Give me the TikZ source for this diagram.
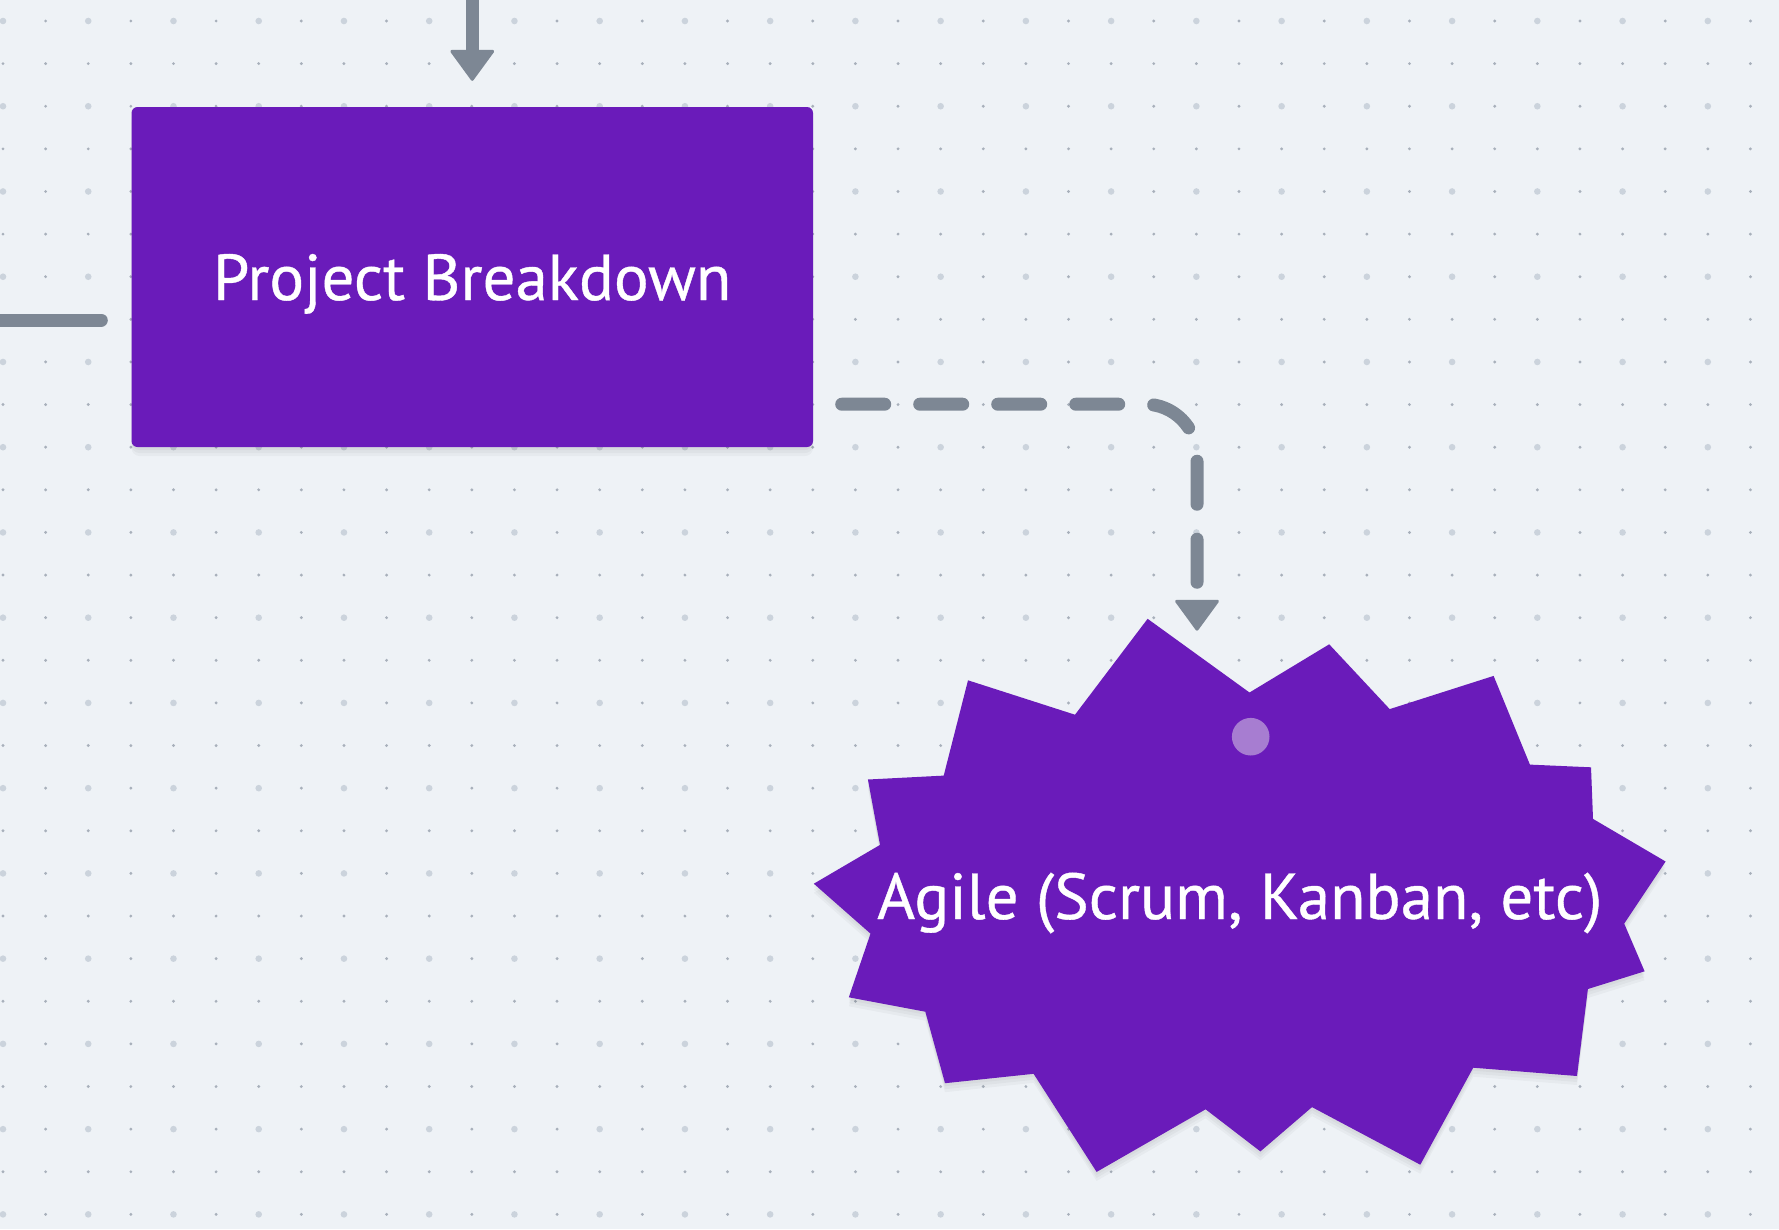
\documentclass[tikz,border=0pt]{standalone}
\usepackage{fontspec}
\setmainfont{PT Sans}
\newfontfamily\labelfont[FakeBold=0.6]{PT Sans}
\usetikzlibrary{arrows.meta,calc}
\definecolor{bgc}{HTML}{EEF2F6}
\definecolor{conn}{HTML}{7D8794}
\definecolor{purp}{HTML}{6A1BBA}
\definecolor{dotsm}{HTML}{A8B0BB}
\definecolor{dotbg}{HTML}{CBD3DC}
\definecolor{lightp}{HTML}{A77DD1}
\newcommand\agileburst{(1147.6,618.8) -- (1249.5,692.5) -- (1329.2,644.3) -- (1389.7,709.1) -- (1493.6,675.9) -- (1529.9,764.6) -- (1591.0,767.3) -- (1593.0,818.9) -- (1665.6,861.5) -- (1624.2,923.6) -- (1644.6,971.3) -- (1587.9,989.0) -- (1577.0,1076.0) -- (1473.2,1067.7) -- (1420.3,1164.7) -- (1312.0,1107.1) -- (1260.4,1151.4) -- (1205.6,1109.3) -- (1096.6,1171.9) -- (1033.6,1073.8) -- (945.0,1083.2) -- (925.3,1011.7) -- (848.8,997.3) -- (870.5,933.6) -- (813.8,883.7) -- (880.0,844.9) -- (867.9,779.5) -- (943.7,775.6) -- (968.0,680.3) -- (1075.0,714.7) -- cycle}
\begin{document}
\begin{tikzpicture}[x=1pt,y=-1pt,
  connector/.style={draw=conn,line width=13pt,line cap=round,line join=round},
  tip/.style={-{Triangle[width=46pt,length=32pt,round,line width=3pt]}},
  label/.style={text=white,font=\labelfont\fontsize{65}{70}\selectfont,text height=46pt,text depth=0pt,inner sep=0pt}]
\useasboundingbox (0,0) rectangle (1779,1229);
\clip (0,0) rectangle (1779,1229);
\fill[bgc] (0,0) rectangle (1779,1229);
% dot grid
\foreach \i in {0,...,41}{\foreach \j in {0,...,28}{
  \fill[dotsm] ({3+42.62*\i},{21+42.62*\j}) circle (1.6);}}
\foreach \i in {0,2,...,40}{\foreach \j in {0,2,...,28}{
  \fill[dotbg] ({3+42.62*\i},{21+42.62*\j}) circle (3.3);}}
% shadows
\foreach \s in {3,6,9}{
  \fill[black,opacity=0.03,rounded corners=8pt] (131.5,{107+\s}) rectangle (813,{447+\s});
  \fill[black,opacity=0.03,shift={(0,\s)}] \agileburst;}
% box
\node[label,fill=purp,rounded corners=6pt,minimum width=681.5pt,minimum height=340pt] (pb) at (472.25,277) {Project Breakdown};
% starburst
\fill[purp] \agileburst;
\fill[lightp] (1250.7,736.7) circle (18.8);
\node[label] (agile) at (1239.7,896) {Agile (Scrum, Kanban, etc)};
\coordinate (topin) at (472.25,-20);
\coordinate (leftin) at (-20,320);
\coordinate (agiletop) at (1197,630.7);
% connectors
\draw[connector,tip] (topin) -- ([yshift=26pt]pb.north);
\draw[connector] (leftin) -- ($(pb.west)+(-30,43)$);
\draw[connector,tip,dash pattern=on 43pt off 35pt,rounded corners=52pt] ($(pb.south east)+(28.5,-43)$) -| (agiletop);
\end{tikzpicture}
\end{document}
